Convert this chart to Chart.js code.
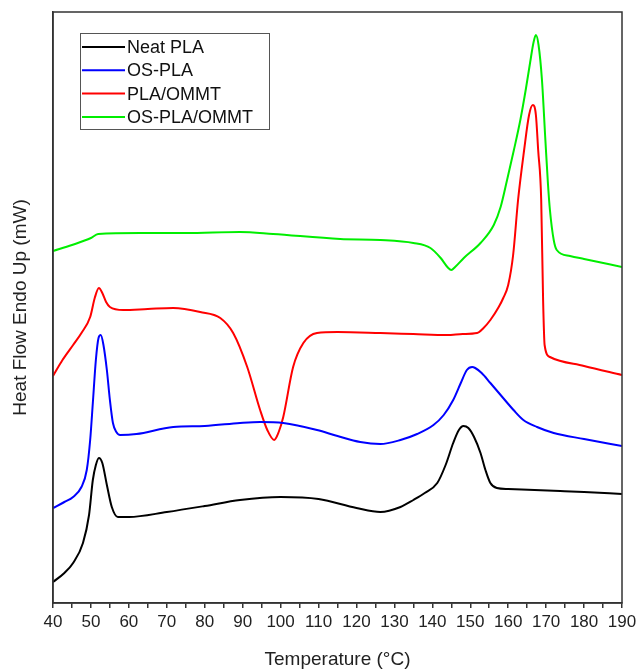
<!DOCTYPE html>
<html>
<head>
<meta charset="utf-8">
<script src="https://cdn.jsdelivr.net/npm/chart.js@4"></script>
<style>
  html, body { margin: 0; padding: 0; background: #fff; }
  #wrap { width: 636px; height: 671px; }
</style>
</head>
<body>
<div id="wrap"><canvas id="dscChart" width="636" height="671"></canvas></div>
<script>
// series names
const seriesNames = ['Neat PLA', 'OS-PLA', 'PLA/OMMT', 'OS-PLA/OMMT'];
const seriesColors = ['#000000', '#0000ff', '#ff0000', '#00ee00'];

// x axis ticks
const tempMin = 40;
const tempMax = 190;

// Neat PLA
const neatTemp = [40, 43, 45.3, 47.9, 49.5, 50.5, 51.3, 52.1, 53, 54.2, 55.5, 57.1, 60, 70, 80, 89.3, 100, 110, 120, 126.3,
    131.6, 135, 138, 141.3, 143.5, 145.5, 147, 148.2, 149.5, 151, 152.7, 154, 155.3, 157, 160, 173.7, 180, 190];
const neatFlow = [2.1, 3.0, 4.0, 6.0, 8.8, 12.3, 13.8, 14.5, 14.0, 11.8, 9.6, 8.6, 8.6, 9.1, 9.7, 10.3, 10.6, 10.4, 9.5, 9.1,
    9.6, 10.3, 11.0, 12.0, 13.8, 16.0, 17.3, 17.7, 17.5, 16.6, 15.0, 13.3, 12.0, 11.5, 11.4, 11.2, 11.1, 10.9];

// OS-PLA
const osTemp = [40, 43, 45.3, 47.5, 48.9, 49.8, 50.5, 51.3, 52, 52.6, 53.3, 54.2, 55, 55.8, 56.7, 57.7, 62, 71.7, 80, 89.3,
    94.6, 100.7, 109.6, 115, 121, 126.3, 131.6, 136, 140.3, 143, 145.5, 147.5, 149.1, 150.5, 151.3, 153, 155.3, 158, 161.4, 164,
    167.6, 172, 180, 190];
const osFlow = [9.5, 10.1, 10.6, 11.6, 13.3, 16.3, 20.0, 24.3, 26.5, 26.8, 25.8, 23.3, 20.3, 18.0, 17.1, 16.8, 16.9, 17.6, 17.7, 18.0,
    18.1, 18.0, 17.3, 16.7, 16.1, 15.9, 16.3, 16.9, 17.8, 18.8, 20.3, 22.0, 23.3, 23.6, 23.5, 23.0, 22.0, 20.8, 19.3, 18.3,
    17.6, 17.0, 16.4, 15.7];

// PLA/OMMT
const ommtTemp = [40, 42.5, 45.3, 47.5, 49.8, 51, 52.1, 53, 54, 55, 58.5, 65, 71.7, 78.8, 84.1, 87.5, 91.2, 94.6, 96.5, 98.3,
    99.5, 100.7, 103.3, 106, 109.6, 115, 126.3, 135, 143.9, 148, 151.8, 153.5, 155.3, 157.5, 158.7, 160, 161.3, 162.6, 164.2, 165.5,
    166.5, 167.3, 167.9, 168.7, 169.2, 169.6, 171, 180, 190];
const ommtFlow = [22.7, 24.3, 25.8, 27.0, 28.6, 30.5, 31.5, 31.0, 30.1, 29.6, 29.3, 29.4, 29.5, 29.1, 28.5, 27.0, 23.6, 19.3, 17.3, 16.3,
    17.1, 18.6, 23.6, 26.0, 27.0, 27.1, 27.0, 26.9, 26.8, 26.9, 27.0, 27.5, 28.3, 29.6, 30.5, 31.8, 34.8, 40.3, 45.3, 48.8,
    49.8, 48.8, 45.3, 40.3, 30.3, 25.8, 24.6, 23.7, 22.8];

// OS-PLA/OMMT
const osOmmtTemp = [40, 45, 50, 51.9, 63, 75, 89.3, 98, 115.7, 126.3, 135, 139.5, 142.2, 144.2, 145, 146, 148.3, 152.7, 156.2, 158,
    159.7, 161.5, 163.2, 164.7, 165.8, 166.7, 167.3, 168, 168.9, 169.8, 170.5, 171, 172, 172.8, 176.3, 180, 190];
const osOmmtFlow = [35.2, 35.8, 36.5, 36.9, 37.0, 37.0, 37.1, 36.9, 36.4, 36.3, 36.0, 35.5, 34.5, 33.5, 33.3, 33.6, 34.5, 36.0, 37.8, 39.6,
    42.3, 45.3, 48.3, 51.5, 54.1, 56.1, 56.8, 55.8, 52.3, 46.3, 41.8, 39.3, 36.3, 35.3, 34.7, 34.4, 33.6];

function toPoints(xs, ys) {
    return xs.map((x, i) => ({ x: x, y: ys[i] }));
}

const allTemps = [neatTemp, osTemp, ommtTemp, osOmmtTemp];
const allFlows = [neatFlow, osFlow, ommtFlow, osOmmtFlow];

const fontName = '"Liberation Sans", Arial, sans-serif';

// frame around the plot + boxed legend in the top-left
const framePlugin = {
    id: 'frame',
    afterDraw(chart) {
        const ctx = chart.ctx;
        const a = chart.chartArea;
        ctx.save();
        ctx.strokeStyle = '#333';
        ctx.lineWidth = 1.5;
        ctx.strokeRect(a.left, a.top, a.right - a.left, a.bottom - a.top);

        // legend
        const bx = 80, by = 33, bw = 189, bh = 96;
        ctx.lineWidth = 1;
        ctx.strokeStyle = '#555';
        ctx.fillStyle = '#fff';
        ctx.fillRect(bx, by, bw, bh);
        ctx.strokeRect(bx + 0.5, by + 0.5, bw, bh);
        ctx.font = '18px ' + fontName;
        ctx.textBaseline = 'middle';
        chart.data.datasets.forEach((ds, i) => {
            const yy = 47 + i * 23.3;
            ctx.strokeStyle = ds.borderColor;
            ctx.lineWidth = 2;
            ctx.beginPath();
            ctx.moveTo(82, yy);
            ctx.lineTo(125, yy);
            ctx.stroke();
            ctx.fillStyle = '#111';
            ctx.fillText(ds.label, 127, yy + 1);
        });
        ctx.restore();
    }
};

const ctx = document.getElementById('dscChart').getContext('2d');
const dscChart = new Chart(ctx, {
    type: 'line',
    data: {
        datasets: seriesNames.map((name, i) => ({
            label: name,
            data: toPoints(allTemps[i], allFlows[i]),
            borderColor: seriesColors[i],
            borderWidth: 2,
            pointRadius: 0,
            tension: 0.4,
            cubicInterpolationMode: 'monotone',
            fill: false
        }))
    },
    options: {
        responsive: false,
        animation: false,
        layout: { padding: { top: 12, right: 14, left: 0, bottom: 0 } },
        plugins: {
            legend: { display: false },
            tooltip: { enabled: false }
        },
        scales: {
            x: {
                type: 'linear',
                min: tempMin,
                max: tempMax,
                afterFit(scale) {
                    scale.height = 68;
                    scale.paddingLeft = 0;
                    scale.paddingRight = 0;
                },
                grid: { drawOnChartArea: false, tickLength: 5, color: '#333', lineWidth: 1.5 },
                border: { color: '#333', width: 1.5 },
                ticks: {
                    stepSize: 5,
                    autoSkip: false,
                    maxRotation: 0,
                    padding: 4,
                    color: '#222',
                    font: { family: fontName, size: 17 },
                    callback: (v) => (v % 10 === 0 ? String(v) : '')
                },
                title: {
                    display: true,
                    text: 'Temperature (°C)',
                    color: '#222',
                    font: { family: fontName, size: 19 },
                    padding: { top: 0, bottom: 0 }
                }
            },
            y: {
                min: 0,
                max: 59.1,
                afterFit(scale) { scale.width = 53; },
                grid: { display: false },
                border: { color: '#333', width: 1.5 },
                ticks: { display: false },
                title: {
                    display: true,
                    text: 'Heat Flow Endo Up (mW)',
                    color: '#222',
                    font: { family: fontName, size: 19 },
                    padding: { top: 9, bottom: 0 }
                }
            }
        }
    },
    plugins: [framePlugin]
});
</script>
</body>
</html>
